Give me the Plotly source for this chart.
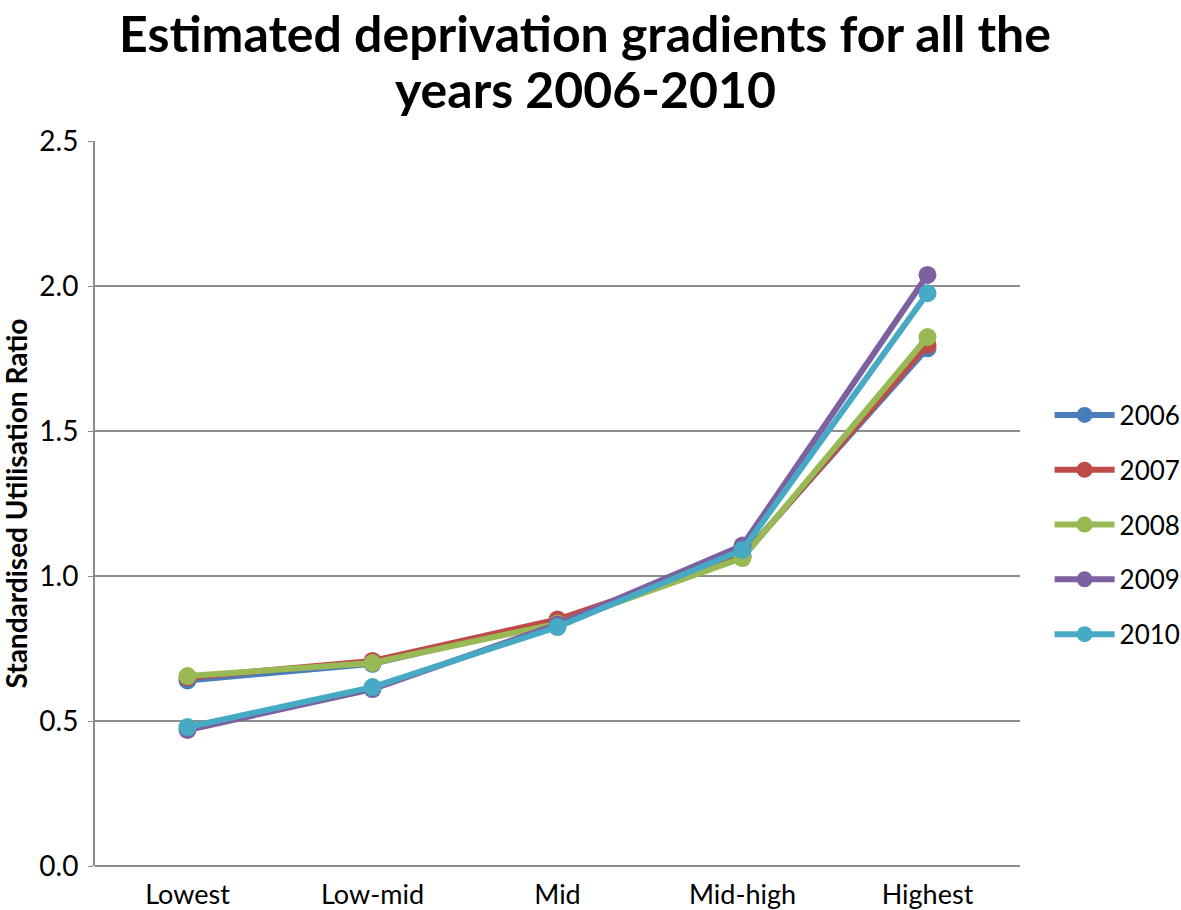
import plotly.graph_objects as go

categories = ["Lowest", "Low-mid", "Mid", "Mid-high", "Highest"]
years = ["2006", "2007", "2008", "2009", "2010"]
v2006 = [0.64, 0.697, 0.845, 1.07, 1.785]
v2007 = [0.65, 0.707, 0.850, 1.066, 1.797]
v2008 = [0.655, 0.700, 0.836, 1.062, 1.824]
v2009 = [0.469, 0.610, 0.833, 1.105, 2.038]
v2010 = [0.479, 0.617, 0.824, 1.090, 1.975]
colors = ["#4a7ebb", "#be4b48", "#98b954", "#7d60a0", "#46aac5"]
title_lines = ["Estimated deprivation gradients for all the", "years 2006-2010"]

series = [v2006, v2007, v2008, v2009, v2010]

L, R, T, B = 95, 161, 141, 44
PW, PH = 1181 - L - R, 910 - T - B


def py(pixel_y):
    return 1 + (T - pixel_y) / PH


fig = go.Figure()
for name, vals, col in zip(years, series, colors):
    fig.add_trace(go.Scatter(
        x=categories, y=vals, name=name, mode="lines+markers",
        legendgroup=name,
        line=dict(color=col, width=6),
        marker=dict(color=col, size=18),
    ))

for line, pix in zip(title_lines, [33, 89]):
    fig.add_annotation(
        text=f"<b>{line}</b>",
        xref="paper", yref="paper", x=(585 - L) / PW, y=py(pix),
        xanchor="center", yanchor="middle", showarrow=False,
        font=dict(size=50, family="Lato, 'Open Sans', sans-serif", color="black"),
    )
fig.add_annotation(
    text="<b>Standardised Utilisation Ratio</b>",
    xref="paper", yref="paper", x=-(L - 15) / PW, y=0.5,
    xanchor="center", yanchor="middle", textangle=-90, showarrow=False,
    font=dict(size=28, family="Lato, 'Open Sans', sans-serif", color="black"),
)

fig.update_layout(
    width=1181, height=910,
    paper_bgcolor="white", plot_bgcolor="white",
    margin=dict(l=L, r=R, t=T, b=B, autoexpand=False),
    font=dict(family="Lato, 'Open Sans', sans-serif", color="black", size=27),
    legend=dict(
        x=1.032, xanchor="left", y=0.471, yanchor="middle",
        font=dict(size=26), tracegroupgap=18, itemwidth=60,
        bgcolor="rgba(0,0,0,0)",
    ),
    showlegend=True,
)
fig.update_xaxes(
    showgrid=False, showline=False, ticks="", automargin=False,
    tickfont=dict(size=27), range=[-0.5, 4.5], ticklabelstandoff=10,
)
fig.update_yaxes(
    range=[0, 2.5], dtick=0.5, tickformat=".1f", automargin=False,
    showgrid=True, gridcolor="#8c8c8c", gridwidth=2,
    showline=True, linecolor="#8c8c8c", linewidth=2,
    ticks="outside", ticklen=5, tickcolor="#8c8c8c", ticklabelstandoff=4,
    tickfont=dict(size=28), zeroline=True, zerolinecolor="#8c8c8c", zerolinewidth=2,
)

fig.write_html("out.html", post_script="document.body.style.margin='0';",
               config={"displayModeBar": False})
